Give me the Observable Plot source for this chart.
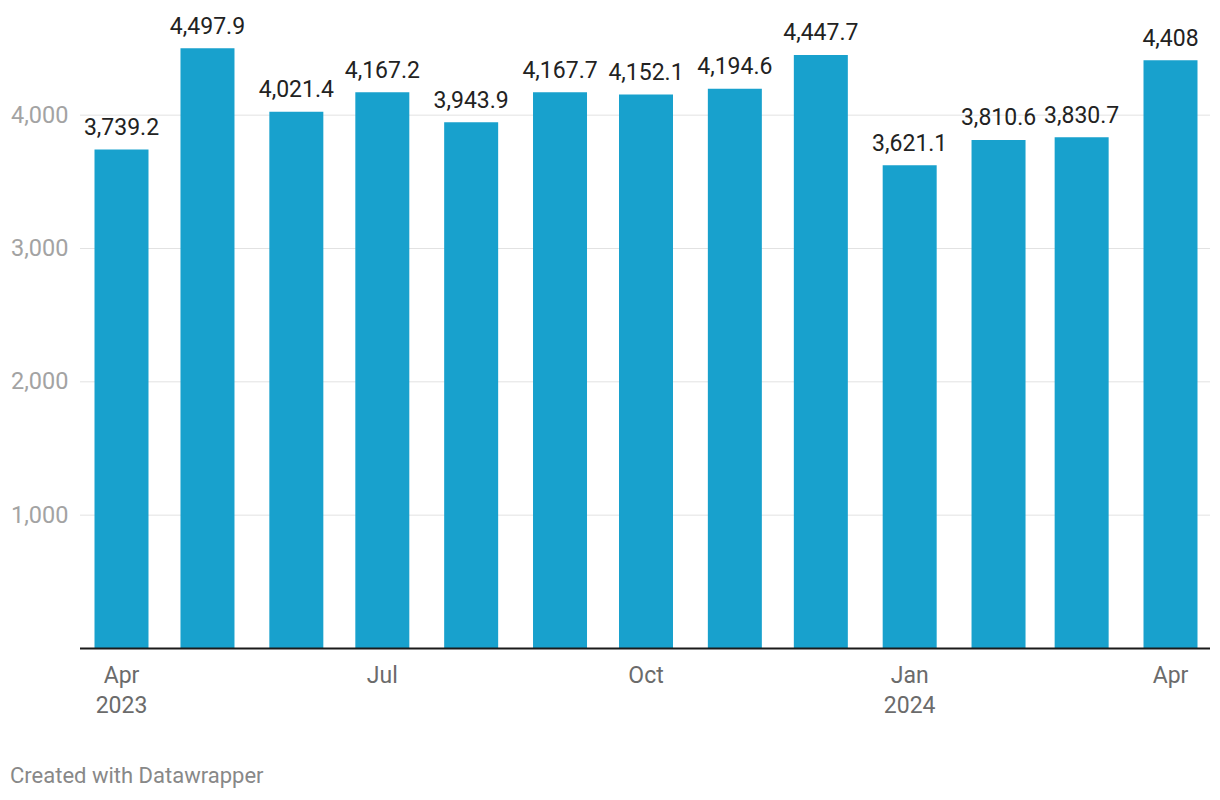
<!DOCTYPE html>
<html>
<head>
<meta charset="utf-8">
<script src="https://cdn.jsdelivr.net/npm/d3@7"></script>
<script src="https://cdn.jsdelivr.net/npm/@observablehq/plot@0.6"></script>
<style>
  body { margin: 0; background: #fff; font-family: Roboto, sans-serif; }
  #chart svg { display: block; overflow: visible; }
  #footer { padding: 34px 0 0 10px; font-size: 22px; line-height: 24px; color: #888; font-family: Roboto, sans-serif; }
</style>
</head>
<body>
<div id="chart"></div>
<div id="footer">Created with Datawrapper</div>
<script>
const months = ["2023-04-01","2023-05-01","2023-06-01","2023-07-01","2023-08-01","2023-09-01","2023-10-01","2023-11-01","2023-12-01","2024-01-01","2024-02-01","2024-03-01","2024-04-01"];
const values = [3739.2, 4497.9, 4021.4, 4167.2, 3943.9, 4167.7, 4152.1, 4194.6, 4447.7, 3621.1, 3810.6, 3830.7, 4408];
const xTickDates = ["2023-04-01","2023-07-01","2023-10-01","2024-01-01","2024-04-01"];
const xTickLabels = ["Apr\n2023","Jul","Oct","Jan\n2024","Apr"];
const yTicks = [1000, 2000, 3000, 4000];

const data = months.map((m, i) => ({date: new Date(m + "T00:00:00Z"), value: values[i]}));
const tickDates = xTickDates.map(d => new Date(d + "T00:00:00Z"));
const labelFor = new Map(tickDates.map((d, i) => [+d, xTickLabels[i]]));
const fmt = d3.format(",");

const chart = Plot.plot({
  width: 1220,
  height: 730,
  marginLeft: 80,
  marginRight: 10,
  marginTop: 48,
  marginBottom: 82,
  style: {fontFamily: "Roboto, sans-serif", background: "#fff"},
  x: {type: "utc", domain: [new Date("2023-03-17T16:41:00Z"), new Date("2024-04-14T22:56:00Z")]},
  y: {domain: [0, 4500]},
  marks: [
    Plot.gridY(yTicks, {stroke: "#e2e2e2", strokeOpacity: 1, strokeWidth: 1}),
    Plot.axisY(yTicks, {tickSize: 0, tickPadding: 12, fontSize: 23.5, fill: "#a3a3a3", tickFormat: fmt, label: null}),
    Plot.ruleX(data, {x: "date", y1: 0, y2: "value", stroke: "#18a1cd", strokeWidth: 54}),
    Plot.text(data, {x: "date", y: "value", text: d => fmt(d.value), lineAnchor: "bottom", dy: -15, fontSize: 23, fill: "#222"}),
    Plot.ruleY([0], {stroke: "#1a1a1a", strokeWidth: 2}),
    Plot.axisX(tickDates, {tickSize: 0, tickPadding: 13, fontSize: 23, fill: "#6b6b6b", lineHeight: 1.3, tickFormat: d => labelFor.get(+d), label: null})
  ]
});
document.getElementById("chart").appendChild(chart);
</script>
</body>
</html>
